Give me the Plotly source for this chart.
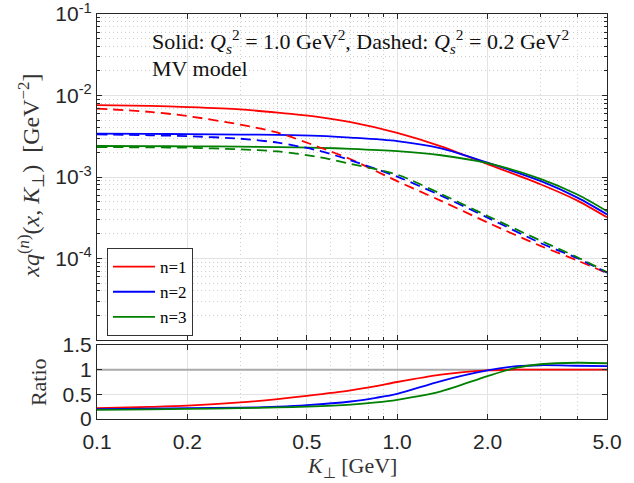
import plotly.graph_objects as go

# ---------------- data ----------------
k_top = [0.1, 0.15, 0.2, 0.3, 0.4, 0.55, 0.7, 1.0, 1.4, 2.0, 3.0, 4.0, 5.0]

solid_n1 = [7.6e-3, 7.45e-3, 7.2e-3, 6.74e-3, 6.15e-3, 5.42e-3, 4.7e-3, 3.48e-3, 2.38e-3, 1.44e-3, 8.15e-4, 5.1e-4, 3.2e-4]
solid_n2 = [3.4e-3, 3.38e-3, 3.36e-3, 3.32e-3, 3.29e-3, 3.2e-3, 3.05e-3, 2.76e-3, 2.25e-3, 1.5e-3, 8.95e-4, 5.55e-4, 3.48e-4]
solid_n3 = [2.4e-3, 2.39e-3, 2.38e-3, 2.36e-3, 2.33e-3, 2.28e-3, 2.22e-3, 2.08e-3, 1.85e-3, 1.48e-3, 9.5e-4, 6.05e-4, 3.8e-4]

dashed_n1 = [6.9e-3, 6.3e-3, 5.6e-3, 4.4e-3, 3.5e-3, 2.32e-3, 1.65e-3, 8.9e-4, 5.1e-4, 2.77e-4, 1.43e-4, 9.4e-5, 6.6e-5]
dashed_n2 = [3.33e-3, 3.25e-3, 3.17e-3, 2.95e-3, 2.64e-3, 2.1e-3, 1.6e-3, 1.01e-3, 5.9e-4, 3.18e-4, 1.55e-4, 1.0e-4, 6.7e-5]
dashed_n3 = [2.33e-3, 2.31e-3, 2.29e-3, 2.18e-3, 2.06e-3, 1.75e-3, 1.45e-3, 1.07e-3, 6.2e-4, 3.33e-4, 1.66e-4, 1.03e-4, 6.8e-5]

k_ratio = [0.1, 0.15, 0.2, 0.3, 0.4, 0.5, 0.7, 0.85, 1.0, 1.4, 2.0, 2.5, 3.0, 4.0, 5.0]
ratio_n1 = [0.22, 0.245, 0.27, 0.335, 0.405, 0.47, 0.58, 0.665, 0.75, 0.90, 0.985, 1.0, 1.0, 1.0, 1.0]
ratio_n2 = [0.20, 0.21, 0.22, 0.23, 0.25, 0.28, 0.355, 0.43, 0.51, 0.77, 0.985, 1.07, 1.09, 1.08, 1.07]
ratio_n3 = [0.185, 0.195, 0.205, 0.22, 0.235, 0.25, 0.29, 0.335, 0.39, 0.56, 0.87, 1.04, 1.11, 1.14, 1.13]

ref_x = [0.1, 5.0]
ref_y = [1.0, 1.0]

x_ticks = [0.1, 0.2, 0.5, 1.0, 2.0, 5.0]
x_ticktext = ["0.1", "0.2", "0.5", "1.0", "2.0", "5.0"]
x_minor = [0.3, 0.4, 0.6, 0.7, 0.8, 0.9, 3.0, 4.0]
y_ticks = [1e-4, 1e-3, 1e-2, 1e-1]
y_ticktext = ["10<sup>-4</sup>", "10<sup>-3</sup>", "10<sup>-2</sup>", "10<sup>-1</sup>"]
y_minor = [m * 10.0 ** e for e in (-5, -4, -3, -2) for m in range(2, 10)]
r_ticks = [0, 0.5, 1, 1.5]
r_ticktext = ["0", "0.5", "1", "1.5"]

names = ["n=1", "n=2", "n=3"]
colors = ["#ff0000", "#0000ff", "#008000"]

# ---------------- figure ----------------
fig = go.Figure()

fig.add_trace(go.Scatter(x=ref_x, y=ref_y, mode="lines", xaxis="x2", yaxis="y2",
                         line=dict(color="#aaaaaa", width=2), showlegend=False, hoverinfo="skip"))

for nm, c, ys in zip(names, colors, [solid_n1, solid_n2, solid_n3]):
    fig.add_trace(go.Scatter(x=k_top, y=ys, mode="lines", name=nm,
                             line=dict(color=c, width=1.8, shape="spline", smoothing=0.8),
                             xaxis="x", yaxis="y"))
for nm, c, ys in zip(names, colors, [dashed_n1, dashed_n2, dashed_n3]):
    fig.add_trace(go.Scatter(x=k_top, y=ys, mode="lines", name=nm, showlegend=False,
                             line=dict(color=c, width=1.8, dash="10px,6px", shape="spline", smoothing=0.8),
                             xaxis="x", yaxis="y"))
for nm, c, ys in zip(names, colors, [ratio_n1, ratio_n2, ratio_n3]):
    fig.add_trace(go.Scatter(x=k_ratio, y=ys, mode="lines", name=nm, showlegend=False,
                             line=dict(color=c, width=1.8, shape="spline", smoothing=0.8),
                             xaxis="x2", yaxis="y2"))

axcol = "#262626"
tickfont = dict(family="Liberation Sans, Arial, sans-serif", size=21, color=axcol)
serif = "Liberation Serif, Times New Roman, serif"
gridmaj = "#e3e3e3"
gridmin = "#cfcfcf"

common_x = dict(type="log", range=[-1, 0.69897], tickmode="array", tickvals=x_ticks,
                showline=True, linecolor=axcol, linewidth=1.2, mirror="ticks",
                ticks="inside", ticklen=5, tickcolor=axcol, automargin=False,
                ticklabeloverflow="allow", ticklabelstandoff=4,
                showgrid=True, gridcolor=gridmaj, gridwidth=1,
                minor=dict(tickmode="array", tickvals=x_minor, ticks="inside", ticklen=3,
                           tickcolor=axcol, showgrid=True, gridcolor=gridmin, griddash="1px,3px", gridwidth=1),
                zeroline=False, tickfont=tickfont)

fig.update_layout(
    width=634, height=483,
    margin=dict(l=97, r=27, t=14, b=64),
    paper_bgcolor="white", plot_bgcolor="white",
    xaxis=dict(common_x, domain=[0, 1], anchor="y", showticklabels=False, ticktext=x_ticktext),
    yaxis=dict(type="log", range=[-5, -1], domain=[0.195, 1], anchor="x",
               tickmode="array", tickvals=y_ticks, ticktext=y_ticktext,
               showline=True, linecolor=axcol, linewidth=1.2, mirror="ticks",
               ticks="inside", ticklen=5, tickcolor=axcol, automargin=False,
               ticklabeloverflow="allow",
               showgrid=True, gridcolor=gridmaj, gridwidth=1,
               minor=dict(tickmode="array", tickvals=y_minor, ticks="inside", ticklen=3,
                          tickcolor=axcol, showgrid=True, gridcolor=gridmin, griddash="1px,3px", gridwidth=1),
               zeroline=False, tickfont=tickfont),
    xaxis2=dict(common_x, domain=[0, 1], anchor="y2", ticktext=x_ticktext, matches="x"),
    yaxis2=dict(range=[0, 1.5], domain=[0, 0.1827], anchor="x2",
                tickmode="array", tickvals=r_ticks, ticktext=r_ticktext,
                showline=True, linecolor=axcol, linewidth=1.2, mirror="ticks",
                ticks="inside", ticklen=5, tickcolor=axcol, automargin=False,
                ticklabeloverflow="allow",
                showgrid=True, gridcolor=gridmaj, gridwidth=1,
                zeroline=False, tickfont=tickfont),
    legend=dict(x=0.0196, y=0.422, xanchor="left", yanchor="top",
                bgcolor="white", bordercolor="#333333", borderwidth=1,
                font=dict(family=serif, size=17, color="black"),
                tracegroupgap=0, itemwidth=42),
    showlegend=True,
    annotations=[
        dict(xref="paper", yref="paper", x=0.104, y=0.933, xanchor="left", yanchor="middle",
             showarrow=False, font=dict(family=serif, size=22, color="#111111"),
             text="Solid: <i>Q</i><sub><i>s</i></sub><sup>2</sup> = 1.0 GeV<sup>2</sup>, Dashed: <i>Q</i><sub><i>s</i></sub><sup>2</sup> = 0.2 GeV<sup>2</sup>"),
        dict(xref="paper", yref="paper", x=0.104, y=0.865, xanchor="left", yanchor="middle",
             showarrow=False, font=dict(family=serif, size=22, color="#111111"),
             text="MV model"),
        dict(xref="paper", yref="paper", x=-0.13, y=0.60, xanchor="center", yanchor="middle",
             textangle=-90, showarrow=False, font=dict(family=serif, size=24, color="#333333"),
             text="<i>xq</i><sup>(<i>n</i>)</sup>(<i>x</i>, <i>K</i><sub>⊥</sub>)  [GeV<sup>−2</sup>]"),
        dict(xref="paper", yref="paper", x=-0.115, y=0.092, xanchor="center", yanchor="middle",
             textangle=-90, showarrow=False, font=dict(family=serif, size=22, color="#333333"),
             text="Ratio"),
        dict(xref="paper", yref="paper", x=0.500, y=-0.119, xanchor="center", yanchor="middle",
             showarrow=False, font=dict(family=serif, size=22, color="#333333"),
             text="<i>K</i><sub>⊥</sub> [GeV]"),
    ],
)

fig.write_html("out.html", config={"displayModeBar": False},
               post_script="document.body.style.margin='0px';document.body.style.overflow='hidden';")
